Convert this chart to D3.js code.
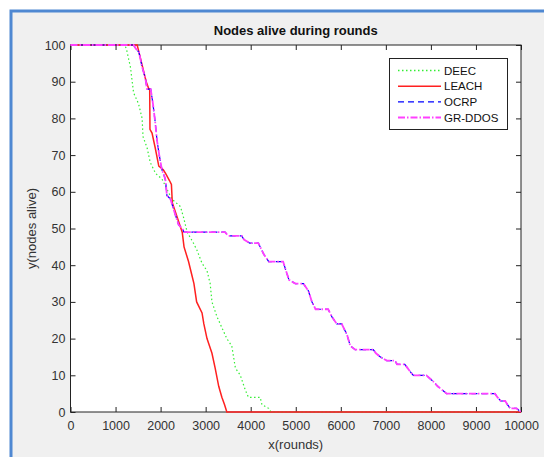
<!DOCTYPE html>
<html>
<head>
<meta charset="utf-8">
<script src="https://cdn.jsdelivr.net/npm/d3@7"></script>
<style>
  html, body { margin: 0; padding: 0; background: #fff; }
  svg { display: block; font-family: "Liberation Sans", Arial, sans-serif; }
</style>
</head>
<body>
<div id="chart"></div>
<script>
// series values (rounds, nodes alive)
const deecRounds = [0, 1200, 1240, 1330, 1400, 1510, 1590, 1610, 1700, 1770, 1890, 2030, 2250, 2440, 2510, 2590, 2730, 2810, 2920, 3030, 3100, 3140, 3250, 3360, 3470, 3580, 3660, 3770, 3880, 3950, 4210, 4250, 4400, 4450, 10000];
const deecAlive  = [100, 100, 99, 94, 87, 84, 80, 75, 72, 68, 65, 63.5, 58, 56, 53, 49, 46, 44, 40.5, 38.5, 35, 30, 26, 23, 20, 18, 12, 10, 6, 4, 4, 2, 1, 0, 0];

const leachRounds = [0, 1480, 1500, 1560, 1620, 1680, 1740, 1758, 1764, 1810, 1880, 1960, 2060, 2110, 2200, 2240, 2260, 2370, 2480, 2520, 2620, 2700, 2740, 2800, 2920, 2960, 3030, 3140, 3210, 3290, 3360, 3420, 3470, 10000];
const leachAlive  = [100, 100, 99, 96, 93, 90, 88, 88, 77, 76, 72, 67, 66, 65, 63, 62, 57, 53, 49, 45, 41, 37, 35, 30, 27, 24, 20, 16, 12, 7, 4, 2, 0, 0];

const grRounds = [0, 1400, 1450, 1520, 1590, 1660, 1700, 1780, 1830, 1880, 1920, 1970, 2030, 2090, 2110, 2140, 2220, 2320, 2400, 2480, 2520, 3430, 3500, 3800, 3850, 3980, 4170, 4290, 4400, 4720, 4770, 4850, 4990, 5170, 5280, 5360, 5440, 5720, 5800, 5910, 6020, 6140, 6210, 6320, 6720, 6780, 6880, 7020, 7200, 7250, 7420, 7540, 7610, 7900, 7990, 8080, 8150, 8250, 8350, 9420, 9480, 9550, 9650, 9700, 9760, 9900, 9950, 10000];
const grAlive  = [100, 100, 99, 98, 94, 91, 88, 88, 84, 79, 74, 70, 66, 64, 63, 59, 58, 54, 51, 50, 49, 49, 48, 48, 47, 46, 46, 43, 41, 41, 39, 36, 35, 35, 33, 30, 28, 28, 26, 24, 24, 21, 18, 17, 17, 16, 15, 14, 14, 13, 13, 11, 10, 10, 9, 8, 7, 6, 5, 5, 4, 3, 3, 2, 1, 1, 0.5, 0];

// OCRP sits under GR-DDOS the whole way
const ocrpRounds = grRounds;
const ocrpAlive  = grAlive;

const xTicks = [0, 1000, 2000, 3000, 4000, 5000, 6000, 7000, 8000, 9000, 10000];
const yTicks = [0, 10, 20, 30, 40, 50, 60, 70, 80, 90, 100];
const legendNames = ['DEEC', 'LEACH', 'OCRP', 'GR-DDOS'];

const series = [
  { name: 'DEEC', xs: deecRounds, ys: deecAlive, color: '#33ee33', dash: '1.5,2.5', w: 1.2 },
  { name: 'LEACH', xs: leachRounds, ys: leachAlive, color: '#ff2020', dash: null, w: 1.5 },
  { name: 'OCRP', xs: ocrpRounds, ys: ocrpAlive, color: '#0000ff', dash: '6,4', w: 1.2 },
  { name: 'GR-DDOS', xs: grRounds, ys: grAlive, color: '#ff40ff', dash: '7,2,1.5,2', w: 1.8 }
];

const [W, H] = [544, 457];
const m = { left: 70.5, right: 521, top: 45, bottom: 412 };

const svg = d3.select('#chart').append('svg')
  .attr('width', W).attr('height', H);

// figure window: grey with the blue frame on top and left
svg.append('rect')
  .attr('x', 11).attr('y', 11).attr('width', 600).attr('height', 500)
  .attr('fill', '#f0f0f0').attr('stroke', '#4f88d2').attr('stroke-width', 3);

const x = d3.scaleLinear().domain([0, 10000]).range([m.left, m.right]);
const y = d3.scaleLinear().domain([0, 100]).range([m.bottom, m.top]);

svg.append('rect')
  .attr('x', m.left).attr('y', m.top)
  .attr('width', m.right - m.left).attr('height', m.bottom - m.top)
  .attr('fill', '#fff');

// axes, ticks pointing inward
const fmt = d3.format('d');
const gx = svg.append('g').attr('transform', `translate(0,${m.bottom})`)
  .call(d3.axisBottom(x).tickValues(xTicks).tickFormat(fmt).tickSizeInner(-5).tickSizeOuter(0).tickPadding(9));
const gy = svg.append('g').attr('transform', `translate(${m.left},0)`)
  .call(d3.axisLeft(y).tickValues(yTicks).tickFormat(fmt).tickSizeInner(-5).tickSizeOuter(0).tickPadding(5));
svg.append('g').attr('transform', `translate(0,${m.top})`)
  .call(d3.axisTop(x).tickValues(xTicks).tickSizeInner(-5).tickSizeOuter(0).tickFormat(''));
svg.append('g').attr('transform', `translate(${m.right},0)`)
  .call(d3.axisRight(y).tickValues(yTicks).tickSizeInner(-5).tickSizeOuter(0).tickFormat(''));

svg.selectAll('.domain').remove();
svg.selectAll('.tick line').attr('stroke', '#222');
[gx, gy].forEach(g => g.selectAll('text')
  .attr('font-size', 12.5).attr('fill', '#333')
  .attr('font-family', '"Liberation Sans", Arial, sans-serif'));

svg.append('rect')
  .attr('x', m.left).attr('y', m.top)
  .attr('width', m.right - m.left).attr('height', m.bottom - m.top)
  .attr('fill', 'none').attr('stroke', '#222').attr('stroke-width', 1);

// lines
const line = d3.line().x(d => x(d[0])).y(d => y(d[1]));
series.forEach(s => {
  const pts = s.xs.map((v, i) => [v, s.ys[i]]);
  svg.append('path')
    .datum(pts)
    .attr('d', line)
    .attr('fill', 'none')
    .attr('stroke', s.color)
    .attr('stroke-width', s.w)
    .attr('stroke-dasharray', s.dash);
});

// title and labels
svg.append('text')
  .attr('x', (m.left + m.right) / 2).attr('y', 35)
  .attr('text-anchor', 'middle').attr('font-size', 13).attr('font-weight', 'bold')
  .attr('fill', '#111')
  .text('Nodes alive during rounds');
svg.append('text')
  .attr('x', (m.left + m.right) / 2).attr('y', 449)
  .attr('text-anchor', 'middle').attr('font-size', 13).attr('fill', '#333')
  .text('x(rounds)');
svg.append('text')
  .attr('transform', `translate(36,${(m.top + m.bottom) / 2}) rotate(-90)`)
  .attr('text-anchor', 'middle').attr('font-size', 13).attr('fill', '#333')
  .text('y(nodes alive)');

// legend
const lg = svg.append('g');
lg.append('rect')
  .attr('x', 389.5).attr('y', 58.5).attr('width', 118).attr('height', 71)
  .attr('fill', '#fff').attr('stroke', '#222').attr('stroke-width', 1);
const rowY = d3.scalePoint().domain(legendNames).range([70.5, 117.5]);
series.forEach(s => {
  const yy = rowY(s.name);
  lg.append('line')
    .attr('x1', 398).attr('x2', 441).attr('y1', yy).attr('y2', yy)
    .attr('stroke', s.color).attr('stroke-width', Math.max(s.w, 1.4))
    .attr('stroke-dasharray', s.dash);
  lg.append('text')
    .attr('x', 444).attr('y', yy + 4)
    .attr('font-size', 11.5).attr('fill', '#111')
    .text(s.name);
});
</script>
</body>
</html>
